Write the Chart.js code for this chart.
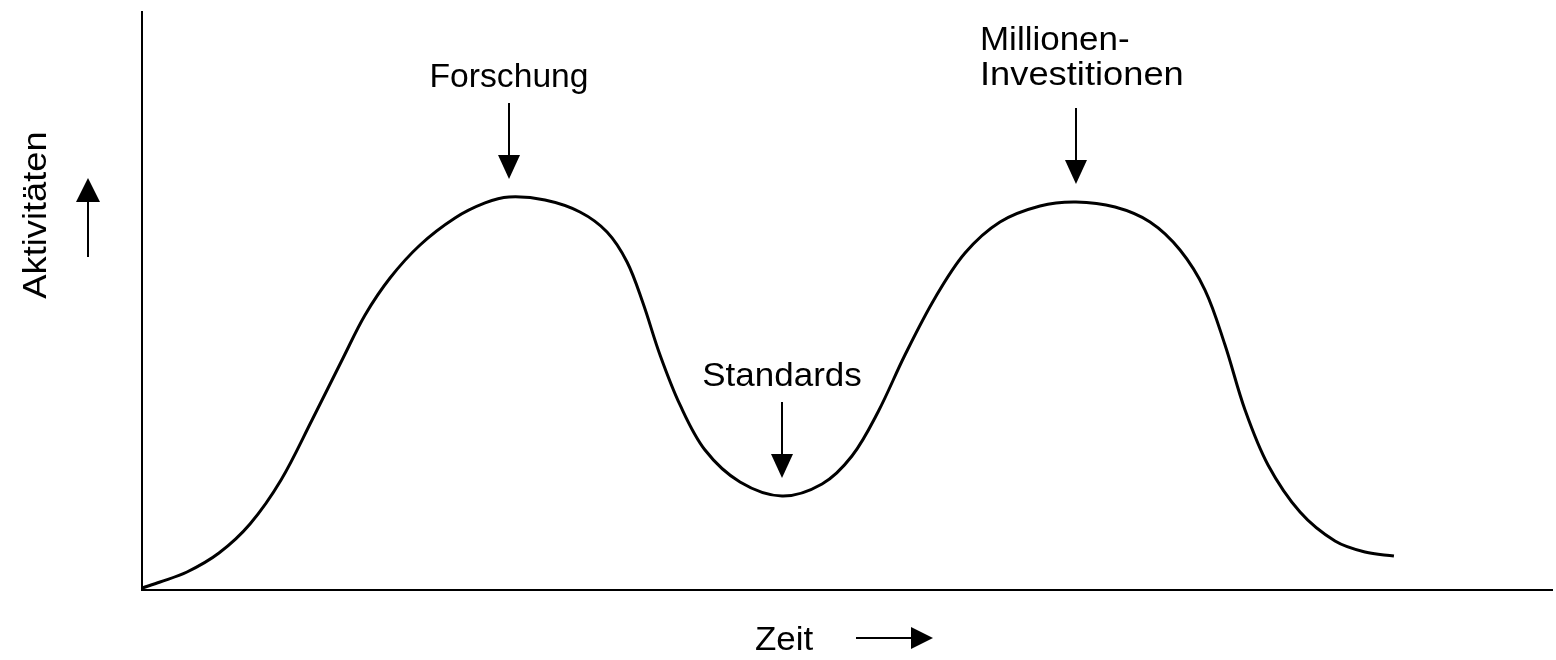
<!DOCTYPE html>
<html>
<head>
<meta charset="utf-8">
<script src="https://cdn.jsdelivr.net/npm/chart.js@4.4.1/dist/chart.umd.min.js"></script>
<style>
  html, body { margin: 0; padding: 0; background: #fff; }
  #wrap { width: 1556px; height: 660px; position: relative; }
</style>
</head>
<body>
<div id="wrap"><canvas id="c" width="1556" height="660"></canvas></div>
<script>
// Time axis (arbitrary units 0..100) and activity level (0..100)
const timeX = [0, 1.28, 3.19, 5.46, 7.66, 9.86, 12.06, 14.26, 15.82, 17.59, 19.72, 22.2, 24.33, 26.03, 28.58, 31.06, 32.98, 34.4, 35.53, 36.74, 38.16, 39.93, 42.41, 45.39, 48.23, 50.35, 52.2, 54.11, 56.24, 58.37, 60.85, 63.69, 66.24, 69.01, 71.49, 73.62, 75.39, 76.81, 78.23, 79.86, 82.13, 84.61, 86.74, 88.79];
const activity = [0.35, 1.38, 3.11, 6.4, 11.42, 19.03, 29.41, 40.14, 47.58, 53.98, 59.69, 64.36, 66.96, 67.99, 67.47, 65.4, 61.94, 56.75, 49.65, 40.66, 32.01, 24.22, 18.69, 16.26, 18.34, 23.18, 30.8, 40.66, 50.52, 58.3, 63.67, 66.44, 67.13, 66.26, 63.67, 58.82, 51.9, 42.39, 31.14, 21.63, 13.49, 8.48, 6.57, 5.88];

// Annotated phases: label lines and the data point (index) each arrow points at
const phaseLabels = [["Forschung"], ["Standards"], ["Millionen-", "Investitionen"]];
const phasePointIndex = [13, 23, 32];
const xTitle = "Zeit";
const yTitle = "Aktivitäten";

const points = timeX.map((x, i) => ({ x: x, y: activity[i] }));

const FONT = "33px 'Liberation Sans', Arial, Helvetica, sans-serif";
const STRETCH = 1.06;

function stretchedText(ctx, text, x, y, align, stretch) {
  const s = stretch || STRETCH;
  ctx.save();
  ctx.font = FONT;
  ctx.textBaseline = 'alphabetic';
  const w = ctx.measureText(text).width * s;
  let left = x;
  if (align === 'center') left = x - w / 2;
  else if (align === 'right') left = x - w;
  ctx.translate(left, y);
  ctx.scale(s, 1);
  ctx.textAlign = 'left';
  ctx.fillStyle = '#000';
  ctx.fillText(text, 0, 0);
  ctx.restore();
}

function arrowDown(ctx, x, yTop, yTip) {
  ctx.save();
  ctx.strokeStyle = '#000';
  ctx.fillStyle = '#000';
  ctx.lineWidth = 2;
  ctx.beginPath();
  ctx.moveTo(x, yTop);
  ctx.lineTo(x, yTip - 20);
  ctx.stroke();
  ctx.beginPath();
  ctx.moveTo(x - 11, yTip - 24);
  ctx.lineTo(x + 11, yTip - 24);
  ctx.lineTo(x, yTip);
  ctx.closePath();
  ctx.fill();
  ctx.restore();
}
function arrowUp(ctx, x, yBottom, yTip) {
  ctx.save();
  ctx.strokeStyle = '#000';
  ctx.fillStyle = '#000';
  ctx.lineWidth = 2;
  ctx.beginPath();
  ctx.moveTo(x, yBottom);
  ctx.lineTo(x, yTip + 20);
  ctx.stroke();
  ctx.beginPath();
  ctx.moveTo(x - 12, yTip + 24);
  ctx.lineTo(x + 12, yTip + 24);
  ctx.lineTo(x, yTip);
  ctx.closePath();
  ctx.fill();
  ctx.restore();
}
function arrowRight(ctx, xLeft, xTip, y) {
  ctx.save();
  ctx.strokeStyle = '#000';
  ctx.fillStyle = '#000';
  ctx.lineWidth = 2;
  ctx.beginPath();
  ctx.moveTo(xLeft, y);
  ctx.lineTo(xTip - 18, y);
  ctx.stroke();
  ctx.beginPath();
  ctx.moveTo(xTip - 22, y - 11);
  ctx.lineTo(xTip - 22, y + 11);
  ctx.lineTo(xTip, y);
  ctx.closePath();
  ctx.fill();
  ctx.restore();
}

const annotationPlugin = {
  id: 'phaseAnnotations',
  afterDraw(chart) {
    const ctx = chart.ctx;
    const xs = chart.scales.x, ys = chart.scales.y;

    phasePointIndex.forEach((idx, k) => {
      const px = xs.getPixelForValue(timeX[idx]);
      const py = ys.getPixelForValue(activity[idx]);
      const tip = py - 18;
      const top = tip - 76;
      arrowDown(ctx, px, top, tip);
      const lines = phaseLabels[k];
      if (lines.length === 1) {
        stretchedText(ctx, lines[0], px, top - 16, 'center', k === 0 ? 1.02 : STRETCH);
      } else {
        const left = px - 96;
        stretchedText(ctx, lines[0], left, top - 58, 'left');
        stretchedText(ctx, lines[1], left, top - 23, 'left', 1.1);
      }
    });

    // x-axis title with arrow
    stretchedText(ctx, xTitle, 755, 650, 'left');
    arrowRight(ctx, 856, 933, 638);

    // y-axis title (rotated) with arrow
    ctx.save();
    ctx.translate(46, 215);
    ctx.rotate(-Math.PI / 2);
    stretchedText(ctx, yTitle, 0, 0, 'center', 1.1);
    ctx.restore();
    arrowUp(ctx, 88, 257, 178);
  }
};

new Chart(document.getElementById('c'), {
  type: 'line',
  data: {
    datasets: [{
      data: points,
      borderColor: '#000',
      borderWidth: 3,
      pointRadius: 0,
      fill: false,
      tension: 0.35
    }]
  },
  options: {
    responsive: false,
    animation: false,
    devicePixelRatio: 1,
    layout: { padding: { left: 142, right: 4, top: 12, bottom: 70 } },
    plugins: { legend: { display: false }, tooltip: { enabled: false } },
    scales: {
      x: {
        type: 'linear', min: 0, max: 100,
        ticks: { display: false },
        grid: { display: false, drawTicks: false },
        border: { display: true, color: '#000', width: 2 },
        afterFit(s) { s.height = 0; }
      },
      y: {
        type: 'linear', min: 0, max: 100,
        ticks: { display: false },
        grid: { display: false, drawTicks: false },
        border: { display: true, color: '#000', width: 2 },
        afterFit(s) { s.width = 0; }
      }
    }
  },
  plugins: [annotationPlugin]
});
</script>
</body>
</html>
